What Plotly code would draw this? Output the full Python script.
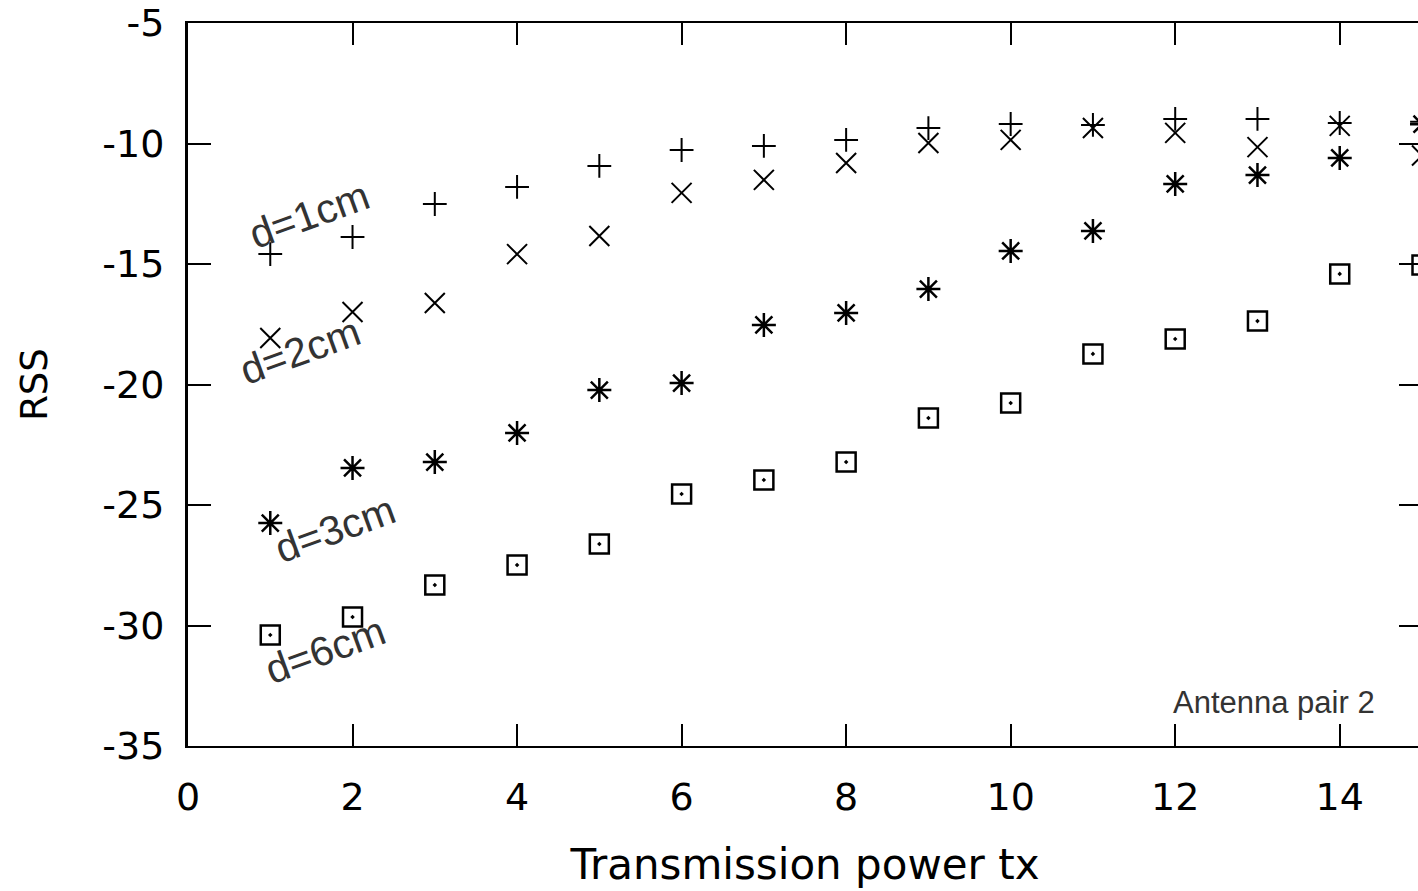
import plotly.graph_objects as go

tx = list(range(1, 16))
rss_d1 = [-14.59, -13.88, -12.51, -11.80, -10.93, -10.27, -10.10, -9.85, -9.36, -9.19, -9.23, -8.98, -8.98, -9.15, -9.10]
rss_d2 = [-18.07, -16.99, -16.62, -14.59, -13.84, -12.05, -11.51, -10.81, -9.98, -9.85, -9.36, -9.56, -10.15, -9.27, -10.50]
rss_d3 = [-25.75, -23.46, -23.22, -22.01, -20.23, -19.94, -17.53, -17.03, -16.04, -14.46, -13.63, -11.68, -11.31, -10.60, -9.20]
rss_d6 = [-30.39, -29.65, -28.32, -27.49, -26.62, -24.54, -23.96, -23.22, -21.39, -20.77, -18.73, -18.11, -17.37, -15.41, -15.04]

series_names = ["d=1cm", "d=2cm", "d=3cm", "d=6cm"]
x_ticks = [0, 2, 4, 6, 8, 10, 12, 14]
y_ticks = [-35, -30, -25, -20, -15, -10, -5]
y_ticktext = ["-35", "-30", "-25", "-20", "-15", "-10", "-5"]

fig = go.Figure()
styles = [
    (rss_d1, "cross-thin-open", 17, 2),
    (rss_d2, "x-thin-open", 20, 2),
    (rss_d3, "asterisk-open", 20, 2.5),
    (rss_d6, "square-open-dot", 19, 2.5),
]
for name, (vals, sym, size, lw) in zip(series_names, styles):
    fig.add_trace(go.Scatter(
        x=tx, y=vals, mode="markers", name=name, cliponaxis=False,
        marker=dict(symbol=sym, size=size, color="black",
                    line=dict(color="black", width=lw)),
        showlegend=False,
    ))

label_font = dict(family="Liberation Sans, Arial, sans-serif", size=41, color="#333333")
label_pos = [(1.47, -12.95), (1.36, -18.6), (1.79, -26.0), (1.67, -31.0)]
for name, (lx, ly) in zip(series_names, label_pos):
    fig.add_annotation(x=lx, y=ly, xref="x", yref="y", text=name, showarrow=False,
                       textangle=-20, font=label_font, xanchor="center", yanchor="middle")

fig.add_annotation(x=13.2, y=-33.2, xref="x", yref="y", text="Antenna pair 2",
                   showarrow=False, xanchor="center", yanchor="middle",
                   font=dict(family="Liberation Sans, Arial, sans-serif", size=31, color="#333333"))

tick_font = dict(family="DejaVu Sans", size=38, color="black")
fig.update_layout(
    width=1422, height=891,
    margin=dict(l=188, r=0, t=23, b=145),
    paper_bgcolor="white", plot_bgcolor="white",
    font=dict(family="DejaVu Sans", color="black"),
    xaxis=dict(
        range=[0, 15], tickvals=x_ticks, ticks="inside", ticklen=22, tickwidth=2,
        tickcolor="black", showline=True, linecolor="black", linewidth=2, mirror="ticks",
        showgrid=False, zeroline=False, tickfont=tick_font, ticklabelstandoff=16,
        automargin=False,
        title=dict(text="Transmission power tx", font=dict(family="DejaVu Sans", size=42, color="black"), standoff=32),
    ),
    yaxis=dict(
        range=[-35, -5], tickvals=y_ticks, ticktext=y_ticktext, ticks="inside", ticklen=23,
        tickwidth=2, tickcolor="black", showline=True, linecolor="black", linewidth=3,
        mirror="ticks",
        showgrid=False, zeroline=False, tickfont=tick_font, ticklabelstandoff=13,
        automargin=False,
        title=dict(text="RSS", font=dict(family="DejaVu Sans", size=37, color="black"), standoff=44),
    ),
)

fig.write_html(
    "out.html",
    config={"displayModeBar": False},
    post_script="document.body.style.margin='0';document.body.style.overflow='hidden';",
)
